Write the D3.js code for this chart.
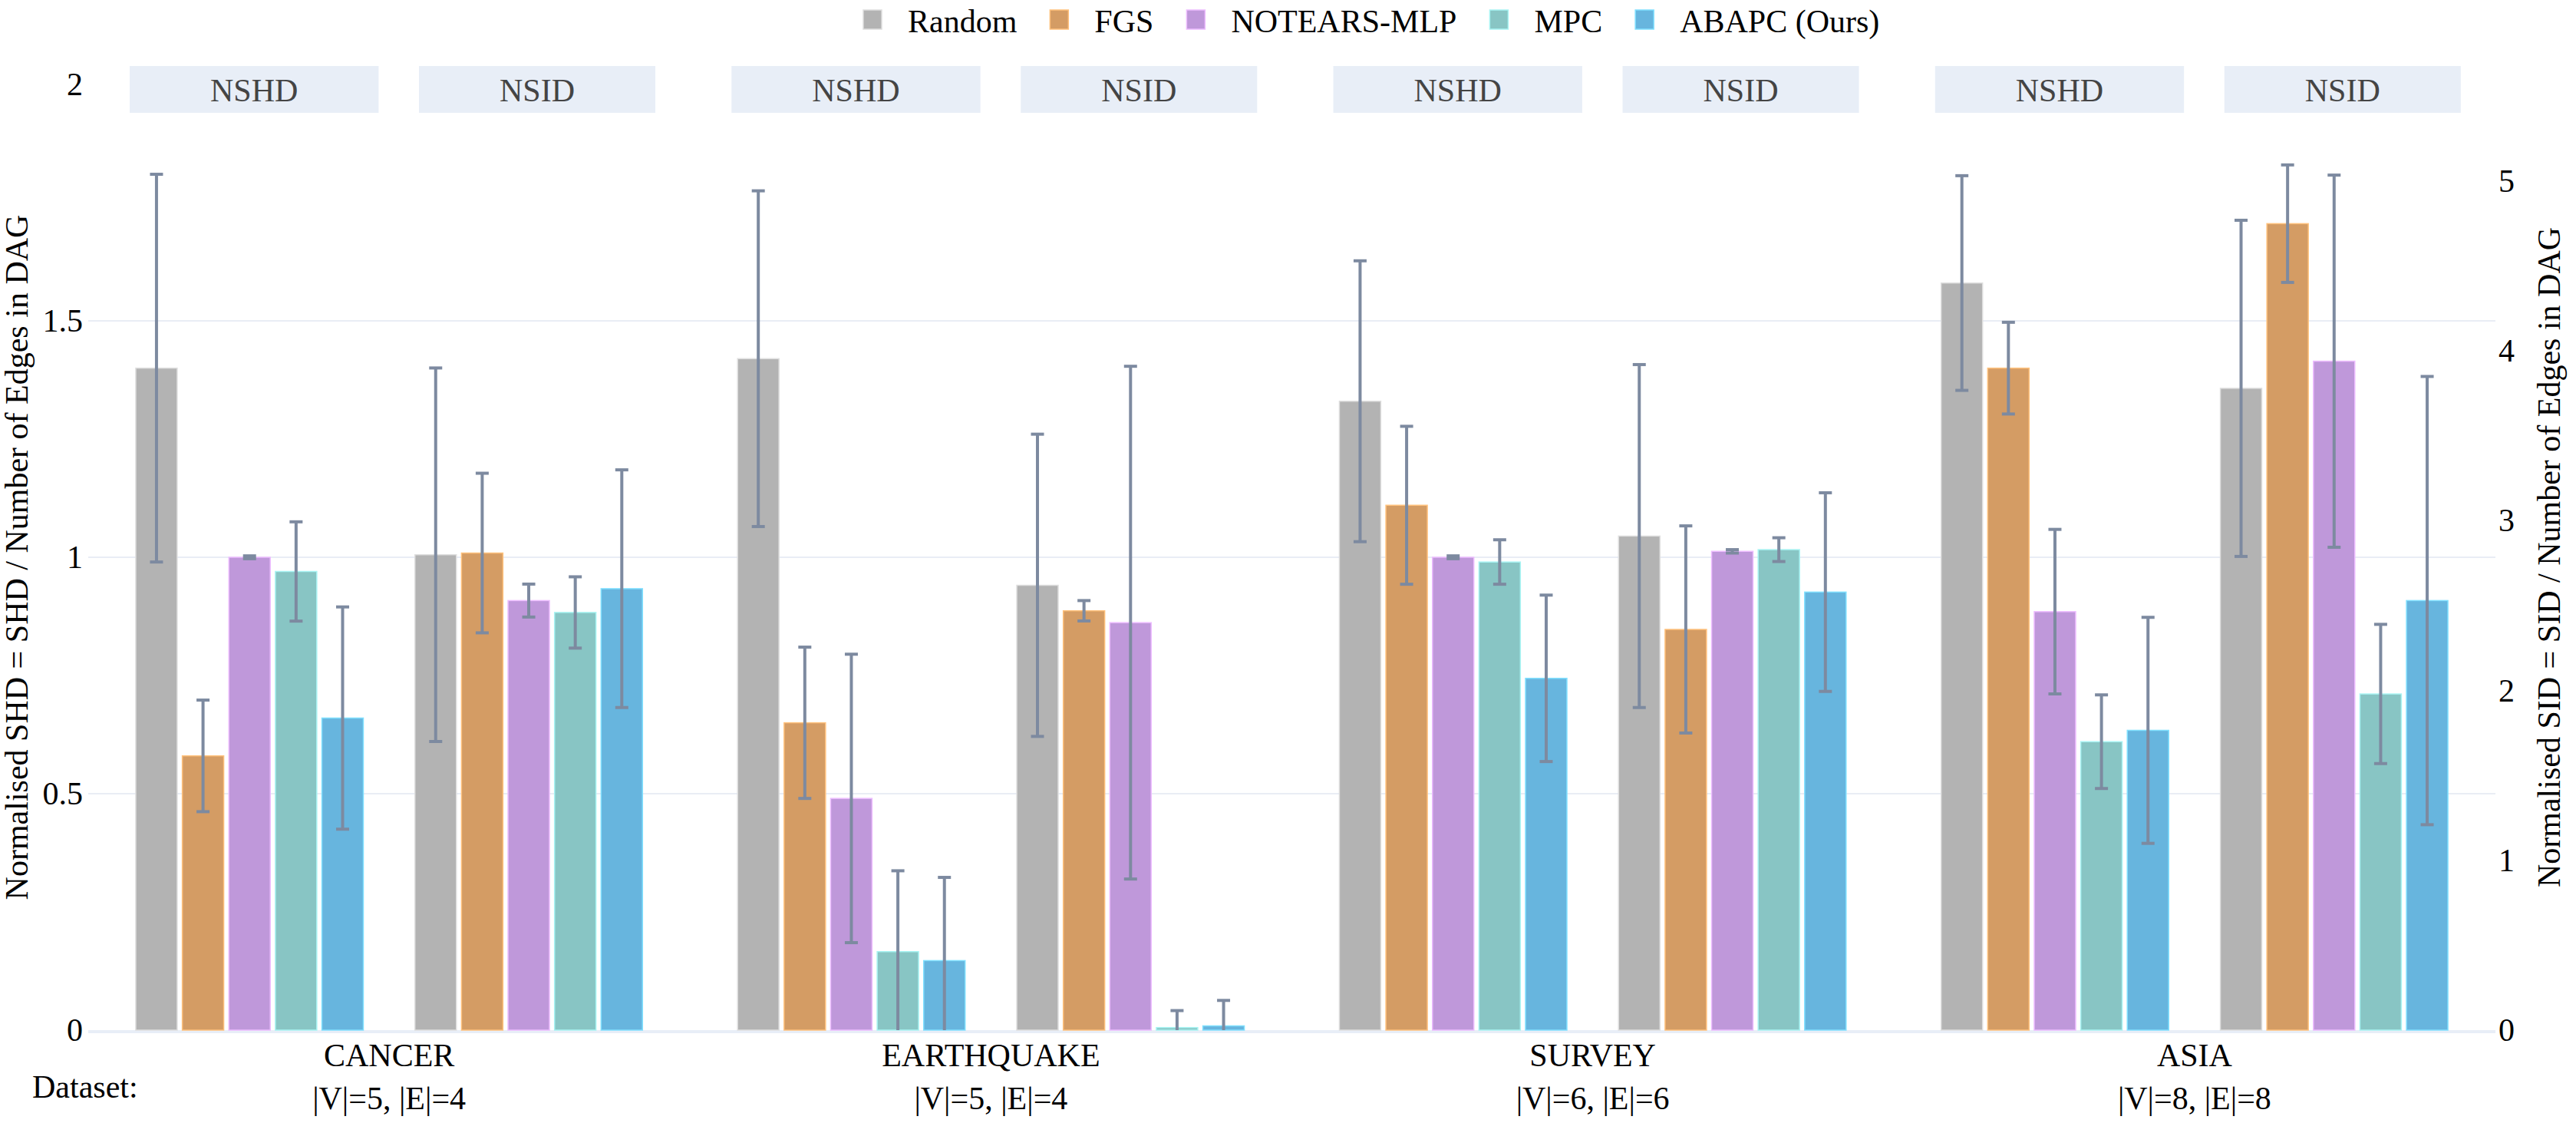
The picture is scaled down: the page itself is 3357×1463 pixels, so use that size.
<!doctype html>
<html lang="en">
<head>
    <meta charset="utf-8"/>
    <title>NSHD / NSID by dataset</title>
    <script src="https://d3js.org/d3.v7.min.js"></script>
    <style>
        body { margin: 0; background: #fff; }
        svg text { font-family: "Liberation Serif", "Times New Roman", serif; }
    </style>
</head>
<body>

<svg id="chart"></svg>

<script>
    // data
    const datasets = ["CANCER", "EARTHQUAKE", "SURVEY", "ASIA"];
    const datasetInfo = ["|V|=5, |E|=4", "|V|=5, |E|=4", "|V|=6, |E|=6", "|V|=8, |E|=8"];
    const methods = ["Random", "FGS", "NOTEARS-MLP", "MPC", "ABAPC (Ours)"];
    const metrics = ["NSHD", "NSID"];
    const colors = ["#b3b3b3", "#d49c64", "#bf98da", "#88c5c4", "#67b5de"];

    // rows = methods, cols = datasets
    const nshdMean = [
        [1.40, 1.42, 1.33, 1.58],
        [0.58, 0.65, 1.11, 1.40],
        [1.00, 0.49, 1.00, 0.885],
        [0.97, 0.166, 0.99, 0.61],
        [0.66, 0.147, 0.744, 0.634]
    ];
    const nshdErr = [
        [0.41, 0.355, 0.297, 0.227],
        [0.118, 0.16, 0.167, 0.097],
        [0.003, 0.305, 0.003, 0.174],
        [0.105, 0.171, 0.047, 0.099],
        [0.235, 0.176, 0.176, 0.239]
    ];
    const nsidMean = [
        [2.80, 2.62, 2.91, 3.78],
        [2.81, 2.47, 2.36, 4.75],
        [2.53, 2.40, 2.82, 3.94],
        [2.46, 0.015, 2.83, 1.98],
        [2.60, 0.025, 2.58, 2.53]
    ];
    const nsidErr = [
        [1.10, 0.89, 1.01, 0.99],
        [0.47, 0.06, 0.61, 0.346],
        [0.097, 1.51, 0.01, 1.096],
        [0.21, 0.10, 0.07, 0.41],
        [0.70, 0.15, 0.585, 1.32]
    ];
    const leftTicks = [0, 0.5, 1, 1.5, 2];
    const rightTicks = [0, 1, 2, 3, 4, 5];

    let width = 3357,
        height = 1463;

    const FONT = "Liberation Serif";
    const plot = {left: 115, right: 3252, top: 110, bottom: 1342};

    const svg = d3.select("#chart")
        .attr("width", width)
        .attr("height", height)
        .attr("font-family", FONT);

    svg.append("rect").attr("width", width).attr("height", height).attr("fill", "#fff");

    const x0 = d3.scaleBand()
        .domain(datasets)
        .range([plot.left, plot.right])
        .paddingInner(0.158)
        .paddingOuter(0.079);

    // 5 NSHD slots, one empty slot, 5 NSID slots
    const slot = d3.scaleBand()
        .domain(d3.range(11))
        .range([0, x0.bandwidth()])
        .paddingInner(0.11);

    const yL = d3.scaleLinear().domain([0, 2]).range([plot.bottom, plot.top]);
    const yR = d3.scaleLinear().domain([0, 5.57]).range([plot.bottom, plot.top]);

    // gridlines
    svg.append("g")
        .selectAll("line")
        .data(leftTicks.filter(d => d > 0 && d < 2))
        .enter()
        .append("line")
        .attr("x1", plot.left).attr("x2", plot.right)
        .attr("y1", d => yL(d)).attr("y2", d => yL(d))
        .attr("stroke", "#e9edf5")
        .attr("stroke-width", 2);

    // zero line (sits just under the bar bases)
    svg.append("line")
        .attr("x1", plot.left).attr("x2", plot.right)
        .attr("y1", yL(0) + 2).attr("y2", yL(0) + 2)
        .attr("stroke", "#e8eef7")
        .attr("stroke-width", 4);

    // flatten bars
    let bars = [];
    datasets.forEach((ds, j) => {
        methods.forEach((m, i) => {
            bars.push({ds: ds, i: i, metric: "NSHD", slot: i, v: nshdMean[i][j], e: nshdErr[i][j], y: yL});
            bars.push({ds: ds, i: i, metric: "NSID", slot: i + 6, v: nsidMean[i][j], e: nsidErr[i][j], y: yR});
        });
    });

    const bx = d => x0(d.ds) + slot(d.slot);

    svg.append("g")
        .selectAll("rect")
        .data(bars)
        .enter()
        .append("rect")
        .attr("x", d => bx(d))
        .attr("width", slot.bandwidth())
        .attr("y", d => d.y(d.v))
        .attr("height", d => plot.bottom - d.y(d.v))
        .attr("fill", d => colors[d.i])
        .attr("stroke", d => d3.color(colors[d.i]).brighter(0.6))
        .attr("stroke-width", 1.5);

    // error bars, clipped to the plot area
    svg.append("clipPath").attr("id", "plotclip")
        .append("rect")
        .attr("x", plot.left).attr("y", plot.top - 30)
        .attr("width", plot.right - plot.left)
        .attr("height", plot.bottom - plot.top + 30);

    const errG = svg.append("g")
        .attr("clip-path", "url(#plotclip)")
        .attr("stroke", "#7d8aa0")
        .attr("stroke-width", 4);

    const cap = 8.5;
    bars.forEach(d => {
        let cx = bx(d) + slot.bandwidth() / 2;
        let hi = d.y(d.v + d.e), lo = d.y(d.v - d.e);
        errG.append("line").attr("x1", cx).attr("x2", cx).attr("y1", hi).attr("y2", lo);
        errG.append("line").attr("x1", cx - cap).attr("x2", cx + cap).attr("y1", hi).attr("y2", hi);
        errG.append("line").attr("x1", cx - cap).attr("x2", cx + cap).attr("y1", lo).attr("y2", lo);
    });

    // axes
    const leftAxis = svg.append("g")
        .attr("transform", `translate(${plot.left},0)`)
        .call(d3.axisLeft(yL).tickValues(leftTicks).tickFormat(d3.format("")).tickSize(0).tickPadding(7));

    const rightAxis = svg.append("g")
        .attr("transform", `translate(${plot.right},0)`)
        .call(d3.axisRight(yR).tickValues(rightTicks).tickFormat(d3.format("")).tickSize(0).tickPadding(4));

    [leftAxis, rightAxis].forEach(a => {
        a.attr("font-family", FONT).attr("font-size", 42);
        a.select(".domain").remove();
        a.selectAll("text").attr("fill", "#000").attr("font-family", FONT);
    });

    const bottomAxis = svg.append("g")
        .attr("transform", `translate(0,${plot.bottom})`)
        .call(d3.axisBottom(x0).tickSize(0).tickFormat(""));
    bottomAxis.attr("font-family", FONT);
    bottomAxis.select(".domain").remove();
    bottomAxis.selectAll(".tick text").remove();
    bottomAxis.selectAll(".tick").each(function (d, k) {
        let t = d3.select(this).append("text")
            .attr("text-anchor", "middle")
            .attr("font-family", FONT)
            .attr("font-size", 42)
            .attr("fill", "#000");
        t.append("tspan").attr("x", 0).attr("y", 47).text(d);
        t.append("tspan").attr("x", 0).attr("y", 103).text(datasetInfo[k]);
    });

    svg.append("text")
        .attr("x", 42).attr("y", 1430)
        .attr("font-family", FONT)
        .attr("font-size", 42)
        .text("Dataset:");

    // axis titles
    svg.append("text")
        .attr("transform", `translate(36,${(plot.top + plot.bottom) / 2}) rotate(-90)`)
        .attr("text-anchor", "middle")
        .attr("font-family", FONT)
        .attr("font-size", 42)
        .text("Normalised SHD = SHD / Number of Edges in DAG");

    svg.append("text")
        .attr("transform", `translate(3336,${(plot.top + plot.bottom) / 2}) rotate(-90)`)
        .attr("text-anchor", "middle")
        .attr("font-family", FONT)
        .attr("font-size", 42)
        .text("Normalised SID = SID / Number of Edges in DAG");

    // NSHD / NSID header boxes
    const headerG = svg.append("g");
    datasets.forEach(ds => {
        metrics.forEach((m, k) => {
            let s0 = k * 6, s1 = k * 6 + 4;
            let cx = x0(ds) + (slot(s0) + slot(s1) + slot.bandwidth()) / 2 + (k ? 11 : 6);
            let g = headerG.append("g");
            let rect = g.append("rect").attr("fill", "#e8eef7");
            let t = g.append("text")
                .attr("x", cx).attr("y", 132)
                .attr("text-anchor", "middle")
                .attr("font-family", FONT)
                .attr("font-size", 42)
                .attr("fill", "#444")
                .text(m);
            let w = t.node().getComputedTextLength() + 210;
            rect.attr("x", cx - w / 2).attr("y", 86).attr("width", w).attr("height", 61);
        });
    });

    // legend
    const legend = svg.append("g");
    let lx = 1125;
    methods.forEach((m, i) => {
        legend.append("rect")
            .attr("x", lx).attr("y", 13)
            .attr("width", 24).attr("height", 25)
            .attr("fill", colors[i])
            .attr("stroke", d3.color(colors[i]).brighter(0.6))
            .attr("stroke-width", 1.5);
        let t = legend.append("text")
            .attr("x", lx + 58).attr("y", 42)
            .attr("font-family", FONT)
            .attr("font-size", 42)
            .attr("fill", "#000")
            .text(m);
        lx += 58 + t.node().getComputedTextLength() + 43;
    });
</script>

</body>
</html>
